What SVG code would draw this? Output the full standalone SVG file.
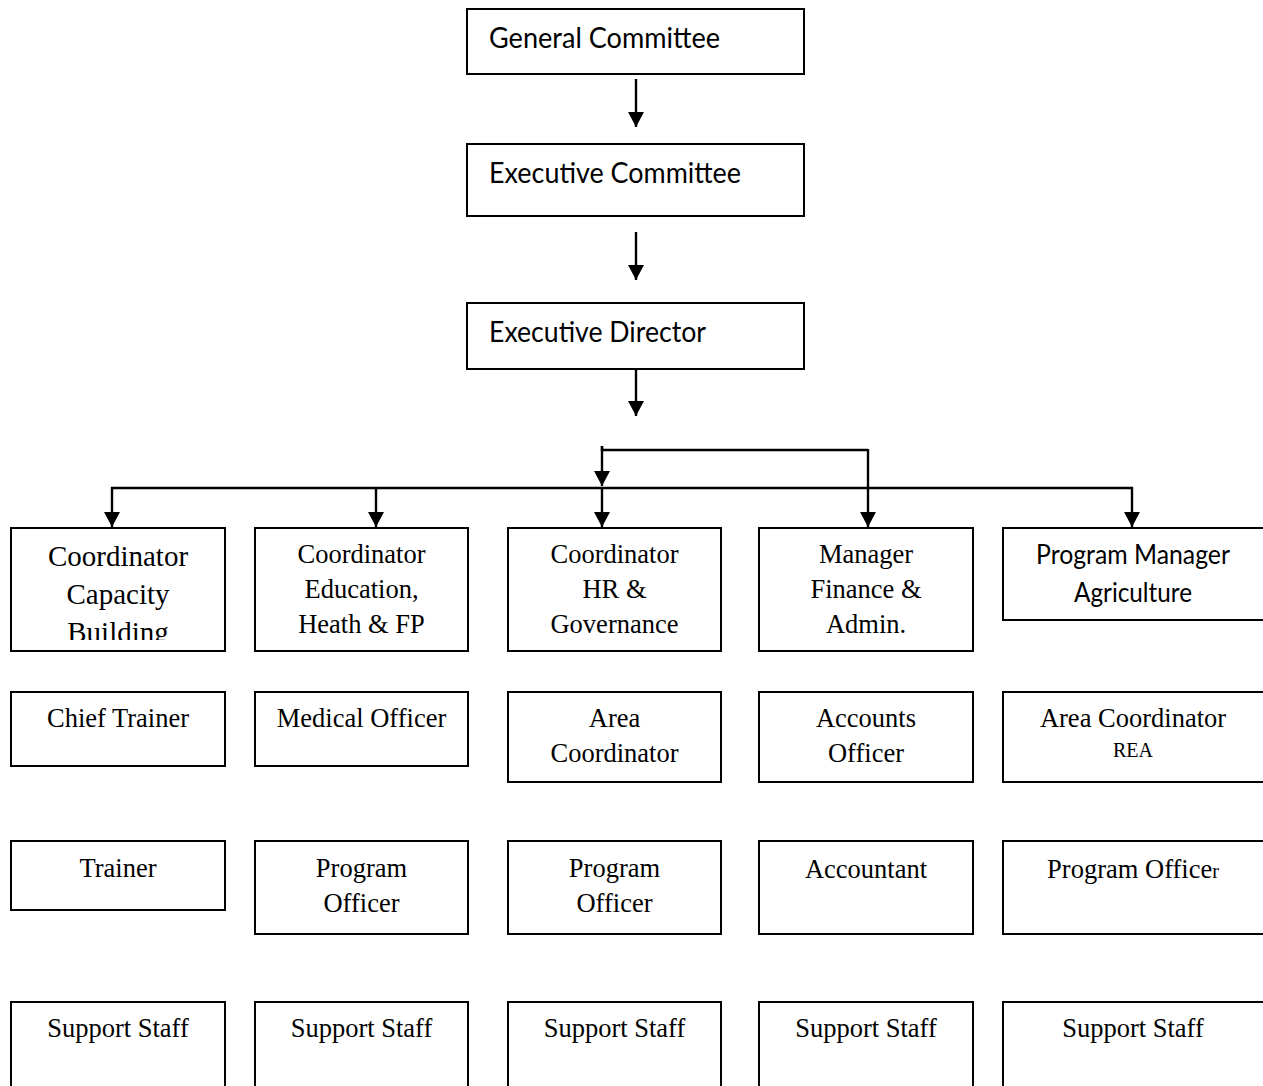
<svg xmlns="http://www.w3.org/2000/svg" width="1263" height="1086" viewBox="0 0 1263 1086">
<style>
.box{fill:#fff;stroke:#000;stroke-width:2}
.c{stroke:#000;stroke-width:2.4;fill:none}
.sans{font-family:Lato,"Carlito","Liberation Sans",sans-serif;fill:#000}
.serif{font-family:"Liberation Serif","Times New Roman",serif;font-size:26.5px;fill:#000;text-anchor:middle}
.big{font-size:29px}
.small{font-size:20px}
</style>
<defs>
<marker id="ah" markerUnits="userSpaceOnUse" markerWidth="17" markerHeight="17" refX="15" refY="8" orient="auto">
<path d="M0,0 L15,8 L0,16 Z" fill="#000"/>
</marker>
<clipPath id="clip1"><rect x="11" y="528" width="214" height="112"/></clipPath>
</defs>
<rect width="1263" height="1086" fill="#fff"/>

<g id="connectors">
<line class="c" x1="636" y1="79" x2="636" y2="127" marker-end="url(#ah)"/>
<line class="c" x1="636" y1="232" x2="636" y2="280" marker-end="url(#ah)"/>
<line class="c" x1="636" y1="370" x2="636" y2="416" marker-end="url(#ah)"/>
<polyline class="c" points="602,446 602,450 868,450"/>
<line class="c" x1="602" y1="446" x2="602" y2="486" marker-end="url(#ah)"/>
<line class="c" x1="602" y1="488" x2="602" y2="527" marker-end="url(#ah)"/>
<line class="c" x1="868" y1="449" x2="868" y2="527" marker-end="url(#ah)"/>
<line class="c" x1="111" y1="488" x2="1133" y2="488"/>
<line class="c" x1="112" y1="487" x2="112" y2="527" marker-end="url(#ah)"/>
<line class="c" x1="376" y1="487" x2="376" y2="527" marker-end="url(#ah)"/>
<line class="c" x1="1132" y1="487" x2="1132" y2="527" marker-end="url(#ah)"/>
</g>

<g id="general-committee">
<rect class="box" x="467" y="9" width="337" height="65"/>
<text class="sans" x="489" y="48" font-size="29" textLength="231" lengthAdjust="spacingAndGlyphs">General Committee</text>
</g>
<g id="executive-committee">
<rect class="box" x="467" y="144" width="337" height="72"/>
<text class="sans" x="489" y="183" font-size="29" textLength="252" lengthAdjust="spacingAndGlyphs">Executive Committee</text>
</g>
<g id="executive-director">
<rect class="box" x="467" y="303" width="337" height="66"/>
<text class="sans" x="489" y="342" font-size="29" textLength="217" lengthAdjust="spacingAndGlyphs">Executive Director</text>
</g>

<g id="coord-capacity">
<rect class="box" x="11" y="528" width="214" height="123"/>
<g clip-path="url(#clip1)">
<text class="serif big" x="118" y="566">Coordinator</text>
<text class="serif big" x="118" y="604">Capacity</text>
<text class="serif big" x="118" y="642">Building</text>
</g>
</g>
<g id="coord-education">
<rect class="box" x="255" y="528" width="213" height="123"/>
<text class="serif" x="361.5" y="563">Coordinator</text>
<text class="serif" x="361.5" y="598">Education,</text>
<text class="serif" x="361.5" y="633">Heath &amp; FP</text>
</g>
<g id="coord-hr">
<rect class="box" x="508" y="528" width="213" height="123"/>
<text class="serif" x="614.5" y="563">Coordinator</text>
<text class="serif" x="614.5" y="598">HR &amp;</text>
<text class="serif" x="614.5" y="633">Governance</text>
</g>
<g id="manager-finance">
<rect class="box" x="759" y="528" width="214" height="123"/>
<text class="serif" x="866" y="563">Manager</text>
<text class="serif" x="866" y="598">Finance &amp;</text>
<text class="serif" x="866" y="633">Admin.</text>
</g>
<g id="pm-agriculture">
<rect class="box" x="1003" y="528" width="264" height="92"/>
<text class="sans" x="1133" y="564" font-size="26" text-anchor="middle" textLength="194" lengthAdjust="spacingAndGlyphs">Program Manager</text>
<text class="sans" x="1133" y="602" font-size="26" text-anchor="middle" textLength="118" lengthAdjust="spacingAndGlyphs">Agriculture</text>
</g>

<g id="chief-trainer">
<rect class="box" x="11" y="692" width="214" height="74"/>
<text class="serif" x="118" y="727">Chief Trainer</text>
</g>
<g id="medical-officer">
<rect class="box" x="255" y="692" width="213" height="74"/>
<text class="serif" x="361.5" y="727">Medical Officer</text>
</g>
<g id="area-coordinator">
<rect class="box" x="508" y="692" width="213" height="90"/>
<text class="serif" x="614.5" y="727">Area</text>
<text class="serif" x="614.5" y="762">Coordinator</text>
</g>
<g id="accounts-officer">
<rect class="box" x="759" y="692" width="214" height="90"/>
<text class="serif" x="866" y="727">Accounts</text>
<text class="serif" x="866" y="762">Officer</text>
</g>
<g id="area-coordinator-rea">
<rect class="box" x="1003" y="692" width="264" height="90"/>
<text class="serif" x="1133" y="727">Area Coordinator</text>
<text class="serif small" x="1133" y="757">REA</text>
</g>

<g id="trainer">
<rect class="box" x="11" y="841" width="214" height="69"/>
<text class="serif" x="118" y="877">Trainer</text>
</g>
<g id="program-officer-2">
<rect class="box" x="255" y="841" width="213" height="93"/>
<text class="serif" x="361.5" y="877">Program</text>
<text class="serif" x="361.5" y="912">Officer</text>
</g>
<g id="program-officer-3">
<rect class="box" x="508" y="841" width="213" height="93"/>
<text class="serif" x="614.5" y="877">Program</text>
<text class="serif" x="614.5" y="912">Officer</text>
</g>
<g id="accountant">
<rect class="box" x="759" y="841" width="214" height="93"/>
<text class="serif" x="866" y="878">Accountant</text>
</g>
<g id="program-officer-5">
<rect class="box" x="1003" y="841" width="264" height="93"/>
<text class="serif" x="1133" y="878">Program Office<tspan class="small">r</tspan></text>
</g>

<g id="support-staff-1">
<rect class="box" x="11" y="1002" width="214" height="100"/>
<text class="serif" x="118" y="1037">Support Staff</text>
</g>
<g id="support-staff-2">
<rect class="box" x="255" y="1002" width="213" height="100"/>
<text class="serif" x="361.5" y="1037">Support Staff</text>
</g>
<g id="support-staff-3">
<rect class="box" x="508" y="1002" width="213" height="100"/>
<text class="serif" x="614.5" y="1037">Support Staff</text>
</g>
<g id="support-staff-4">
<rect class="box" x="759" y="1002" width="214" height="100"/>
<text class="serif" x="866" y="1037">Support Staff</text>
</g>
<g id="support-staff-5">
<rect class="box" x="1003" y="1002" width="264" height="100"/>
<text class="serif" x="1133" y="1037">Support Staff</text>
</g>
</svg>
